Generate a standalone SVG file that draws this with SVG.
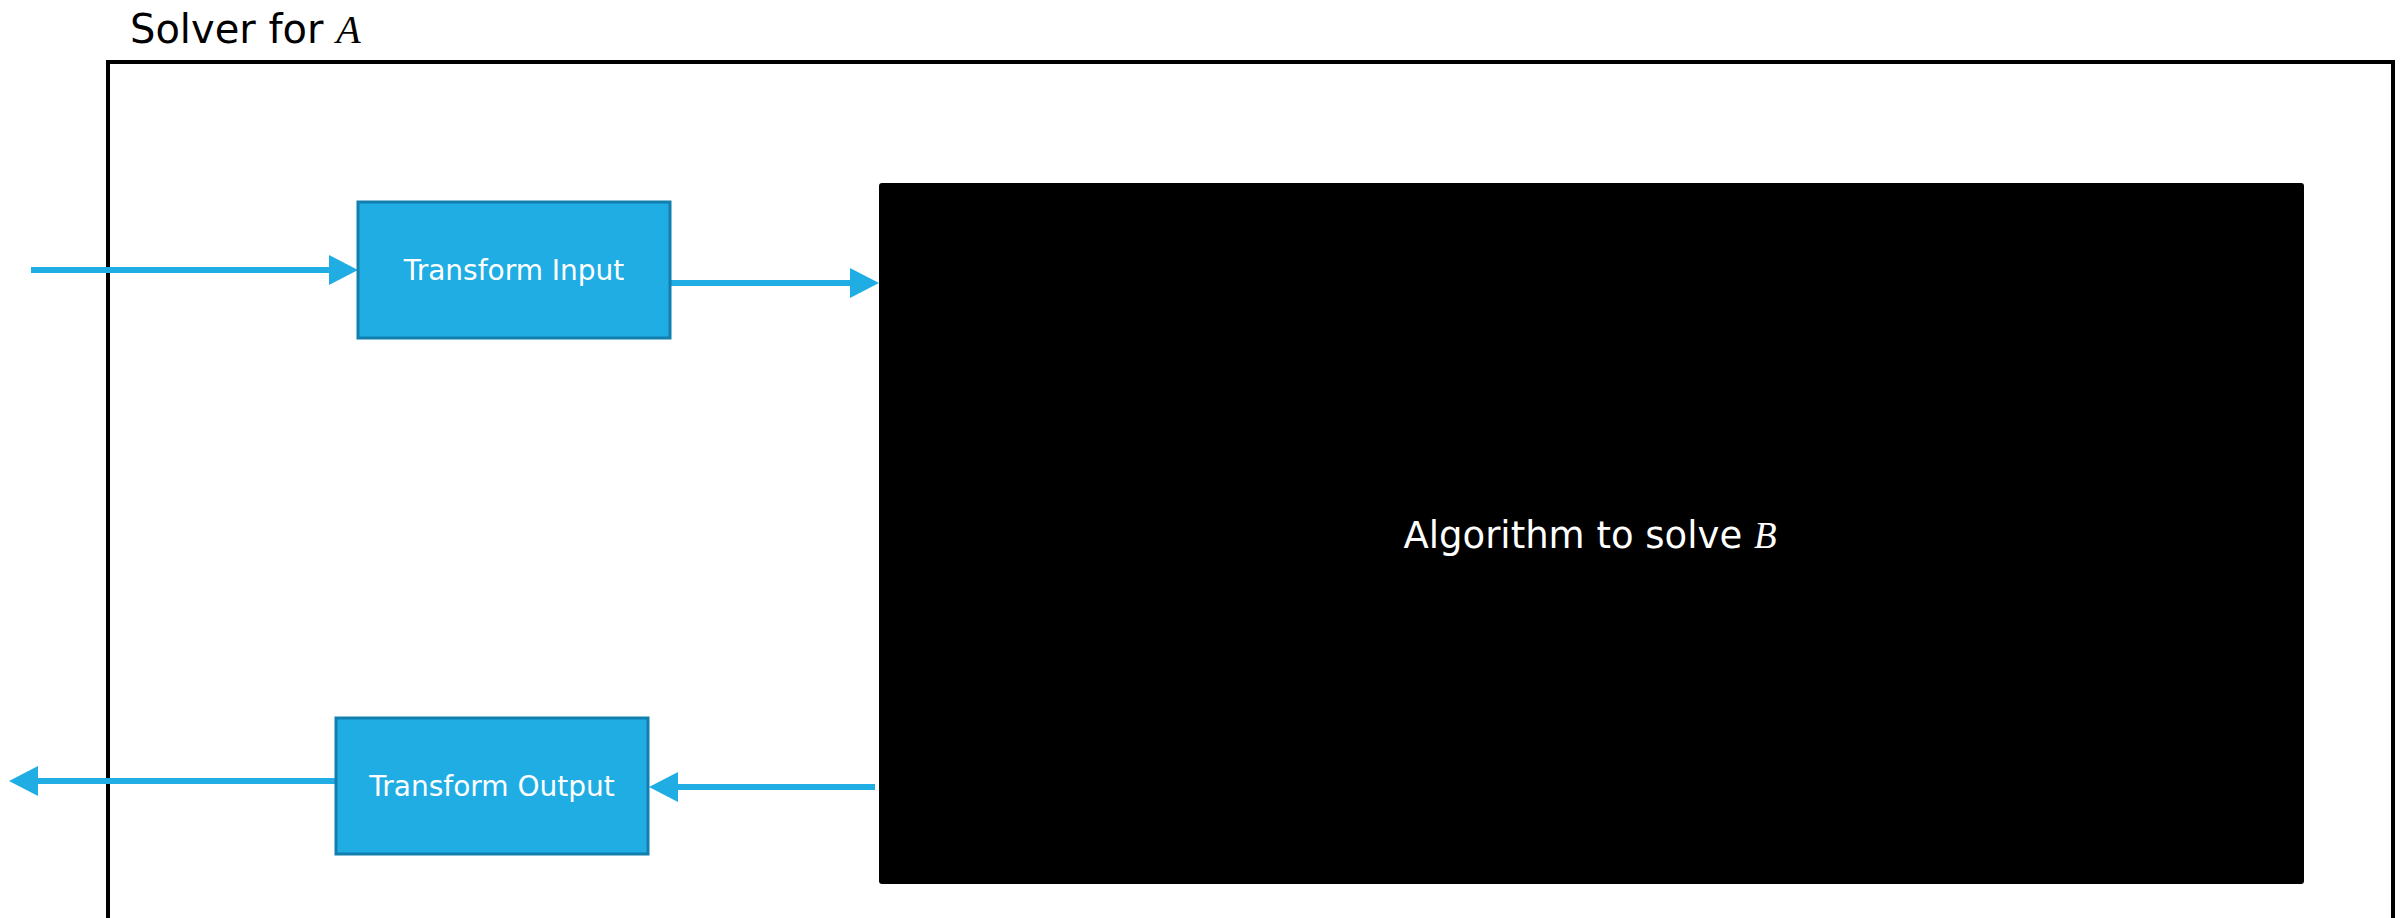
<svg xmlns="http://www.w3.org/2000/svg" width="2408" height="918" viewBox="0 0 2408 918">
<style>
.box{fill:#1FADE4;stroke:#137FAE;stroke-width:3}
.lbl{font-family:"DejaVu Sans",sans-serif;fill:#fff;text-anchor:middle}
.conn{stroke:#1FADE4;stroke-width:6;fill:none}
.math{font-family:"Liberation Serif",serif;font-style:italic}
</style>
<defs>
<marker id="ah" markerUnits="userSpaceOnUse" markerWidth="30" markerHeight="32" refX="19" refY="15" orient="auto">
<path d="M0,0 L29,15 L0,30 z" fill="#1FADE4"/>
</marker>
</defs>
<rect width="2408" height="918" fill="#fff"/>
<g id="frame">
<rect x="108" y="62" width="2285" height="900" fill="none" stroke="#000" stroke-width="4"/>
<text x="130" y="43" font-family="DejaVu Sans, sans-serif" font-size="40" fill="#000">Solver for <tspan class="math">A</tspan></text>
</g>
<g id="connectors">
<path class="conn" d="M31,270 L348,270" marker-end="url(#ah)"/>
<path class="conn" d="M670,283 L869,283" marker-end="url(#ah)"/>
<path class="conn" d="M875,787 L659,787" marker-end="url(#ah)"/>
<path class="conn" d="M336,781 L19,781" marker-end="url(#ah)"/>
</g>
<g id="transform-input">
<rect class="box" x="358" y="202" width="312" height="136"/>
<text class="lbl" x="514" y="280" font-size="28">Transform Input</text>
</g>
<g id="transform-output">
<rect class="box" x="336" y="718" width="312" height="136"/>
<text class="lbl" x="492" y="796" font-size="28">Transform Output</text>
</g>
<g id="algorithm">
<rect x="879" y="183" width="1425" height="701" rx="3" fill="#000"/>
<text class="lbl" x="1590" y="548" font-size="37">Algorithm to solve <tspan class="math">B</tspan></text>
</g>
</svg>
